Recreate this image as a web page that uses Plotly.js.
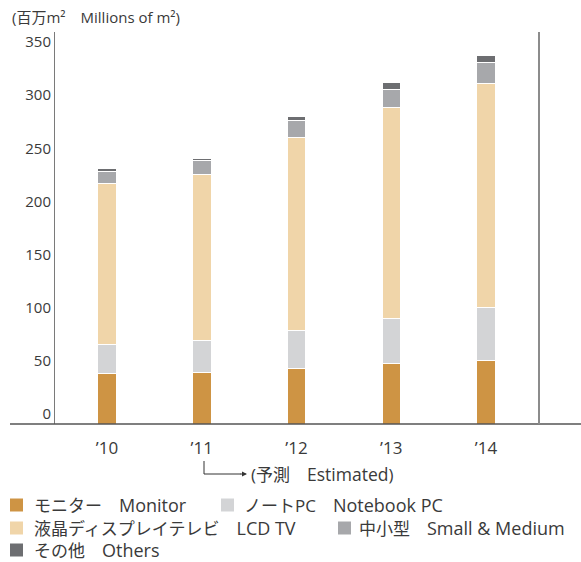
<!DOCTYPE html>
<html>
<head>
<meta charset="utf-8">
<script src="https://cdn.plot.ly/plotly-3.0.1.min.js"></script>
<style>html,body{margin:0;padding:0;background:#fff;}#chart{width:581px;height:562px;}</style>
</head>
<body>
<div id="chart"></div>
<script>
// Data (millions of m²)
const years = ["’10", "’11", "’12", "’13", "’14"];
const monitor = [47.5, 48, 52, 56.5, 59.5];
const notebookPC = [27, 30.5, 36, 42.5, 50];
const lcdTV = [151.5, 156, 181.5, 198.5, 211];
const smallMedium = [12, 13, 16, 17.5, 20];
const others = [2, 2.5, 3.5, 6, 6.5];
const yTicks = [0, 50, 100, 150, 200, 250, 300, 350];

const namesJa = ["モニター", "ノートPC", "液晶ディスプレイテレビ", "中小型", "その他"];
const namesEn = ["Monitor", "Notebook PC", "LCD TV", "Small &amp; Medium", "Others"];
const seriesValues = [monitor, notebookPC, lcdTV, smallMedium, others];
const seriesColors = ["#CE9444", "#D3D4D6", "#F0D5A9", "#A7A8AB", "#6D6E71"];

const FONT = "'Open Sans', 'Noto Sans CJK JP', sans-serif";
const TXT = "#3a3a3a";
const W = 581, H = 562, L = 55, R = 42, T = 32, B = 138;
const pw = W - L - R, ph = H - T - B;
const px = v => (v - L) / pw;
const py = v => (H - B - v) / ph;

const traces = namesJa.map((n, i) => ({
  type: "bar",
  name: n + "　" + namesEn[i],
  x: years,
  y: seriesValues[i],
  width: 0.195,
  marker: {color: seriesColors[i], line: {color: "#ffffff", width: 1}},
  hoverinfo: "skip"
}));

// Legend drawn as swatches + text (positions in pixels: swatch left x, row centre y, text x)
const legendPos = [[10, 505, 32], [221, 505, 242], [10, 528, 32], [338, 528, 357], [10, 550, 32]];
const shapes = [
  {type: "line", xref: "paper", yref: "paper", x0: px(10), x1: px(581), y0: 0, y1: 0, line: {color: "#555", width: 1.5}},
  {type: "line", xref: "paper", yref: "paper", x0: px(539), x1: px(539), y0: 0, y1: 1, line: {color: "#8c8c8c", width: 2}},
  {type: "path", xref: "paper", yref: "paper", path: `M${px(204)},${py(461)} L${px(204)},${py(474)} L${px(241)},${py(474)}`, line: {color: "#333", width: 1}}
];
const annotations = [
  {xref: "paper", yref: "paper", x: px(10), y: py(17), xanchor: "left", yanchor: "middle", showarrow: false,
   text: "(百万m²　Millions of m²)", font: {size: 15, color: TXT}},
  {xref: "paper", yref: "paper", x: px(247), y: py(474), ax: -8, ay: 0, text: "", showarrow: true,
   arrowhead: 2, arrowsize: 1, arrowwidth: 1, arrowcolor: "#333"},
  {xref: "paper", yref: "paper", x: px(249), y: py(474), xanchor: "left", yanchor: "middle", showarrow: false,
   text: "(予測　<span style=\"font-size:17.5px\">Estimated</span>)", font: {size: 17, color: TXT}}
];
namesJa.forEach((n, i) => {
  const [sx, cy, tx] = legendPos[i];
  shapes.push({type: "rect", xref: "paper", yref: "paper", x0: px(sx), x1: px(sx + 13), y0: py(cy - 6.5), y1: py(cy + 6.5),
    fillcolor: seriesColors[i], line: {width: 0}});
  annotations.push({xref: "paper", yref: "paper", x: px(tx), y: py(cy), xanchor: "left", yanchor: "middle", showarrow: false,
    text: n + "　<span style=\"font-size:18px\">" + namesEn[i] + "</span>", font: {size: 17, color: TXT}});
});

const layout = {
  width: W, height: H,
  margin: {l: L, r: R, t: T, b: B, pad: 0},
  barmode: "stack",
  paper_bgcolor: "#fff", plot_bgcolor: "#fff",
  font: {family: FONT, size: 15, color: TXT},
  showlegend: false,
  xaxis: {
    type: "category", range: [-0.549, 4.559], showline: false, ticks: "", automargin: false,
    showgrid: false, zeroline: false, tickfont: {size: 17}, ticklabelstandoff: 12, fixedrange: true
  },
  yaxis: {
    range: [0, 368.8], tickvals: yTicks, ticktext: yTicks.map(String), automargin: false,
    showgrid: false, zeroline: false, showline: true, linecolor: "#7a7a7a", linewidth: 1,
    ticks: "", ticklabelshift: -10, tickfont: {size: 15}, fixedrange: true
  },
  shapes: shapes,
  annotations: annotations
};

Plotly.newPlot("chart", traces, layout, {displayModeBar: false, staticPlot: true});
</script>
</body>
</html>
